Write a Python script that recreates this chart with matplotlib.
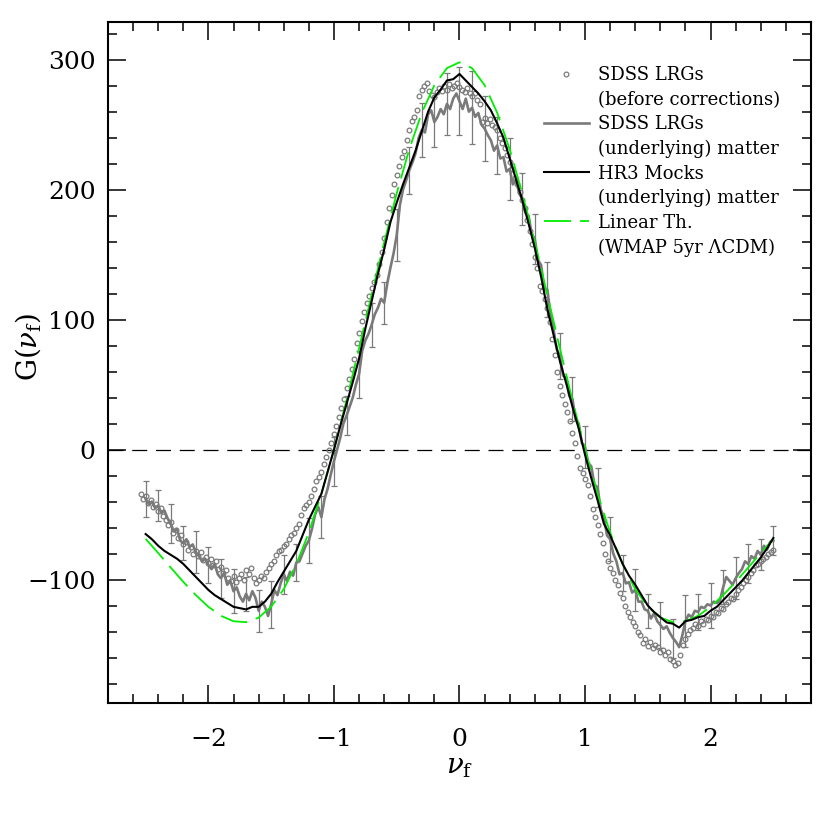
import numpy as np
import matplotlib
matplotlib.use("Agg")
import matplotlib.pyplot as plt
from matplotlib.ticker import MultipleLocator
from matplotlib.lines import Line2D

plt.rcParams['font.family'] = ['DejaVu Serif']
plt.rcParams['mathtext.fontset'] = 'dejavuserif'
plt.rcParams['axes.unicode_minus'] = True

# SDSS LRGs before corrections (open circles), nu_f = -2.54 ... 2.50 step 0.02
g_dots = [
    -34, -38, -36, -41, -39, -44, -42, -47, -45, -51,
    -54, -58, -56, -64, -62, -68, -66, -73, -71, -77,
    -75, -80, -78, -82, -79, -85, -83, -87, -84, -89,
    -86, -92, -90, -95, -93, -99, -101, -97, -102, -99,
    -96, -100, -93, -96, -91, -99, -103, -100, -97, -99,
    -94, -91, -88, -86, -81, -78, -77, -74, -73, -69,
    -66, -64, -60, -57, -50, -45, -43, -40, -36, -30,
    -24, -21, -17, -11, -6, 0, 5, 12, 18, 25,
    32, 39, 47, 54, 62, 70, 82, 90, 99, 106,
    113, 118, 124, 129, 134, 143, 152, 163, 175, 186,
    196, 204, 211, 218, 225, 230, 238, 246, 253, 256,
    261, 272, 277, 280, 282, 276, 273, 271, 275, 278,
    276, 280, 277, 281, 278, 280, 282, 279, 277, 275,
    278, 274, 272, 274, 269, 266, 252, 255, 251, 254,
    250, 248, 246, 240, 236, 232, 227, 221, 216, 209,
    204, 198, 192, 186, 177, 168, 158, 148, 140, 126,
    122, 116, 109, 98, 85, 73, 60, 49, 42, 35,
    29, 22, 13, 5, -5, -14, -18, -23, -27, -36,
    -46, -52, -58, -65, -72, -80, -86, -91, -95, -100,
    -104, -110, -114, -120, -125, -129, -133, -136, -140, -143,
    -149, -146, -151, -148, -153, -150, -152, -156, -154, -158,
    -156, -161, -163, -166, -164, -158, -150, -146, -142, -139,
    -137, -134, -136, -132, -134, -130, -131, -128, -129, -125,
    -126, -122, -123, -119, -117, -114, -115, -111, -108, -106,
    -103, -100, -98, -95, -93, -89, -88, -86, -84, -83,
    -80, -79, -77,
]

# SDSS LRGs, underlying matter (grey line), nu_f = -2.5 ... 2.5 step 0.025
g_sdss = [
    -38, -42, -40, -45, -43, -49, -47, -53, -57, -63,
    -61, -70, -72, -69, -75, -73, -79, -82, -86, -84,
    -89, -92, -88, -96, -99, -95, -104, -101, -109, -106,
    -113, -117, -111, -116, -109, -114, -124, -117, -121, -128,
    -119, -108, -112, -103, -96, -101, -94, -97, -87, -86,
    -80, -74, -70, -61, -50, -44, -52, -38, -30, -19,
    -9, 0, 9, 20, 26, 33, 40, 50, 58, 76,
    84, 89, 96, 104, 109, 116, 113, 128, 140, 151,
    165, 188, 200, 207, 215, 221, 228, 240, 246, 244,
    258, 261, 252, 256, 262, 258, 266, 262, 270, 274,
    268, 262, 270, 260, 263, 256, 259, 250, 247, 242,
    238, 230, 234, 224, 225, 214, 216, 204, 208, 197,
    193, 182, 180, 166, 162, 146, 142, 124, 123, 104,
    92, 77, 72, 57, 55, 41, 39, 23, 20, 5,
    2, -10, -13, -27, -29, -46, -52, -66, -69, -80,
    -86, -96, -95, -103, -102, -110, -108, -117, -117, -123,
    -124, -130, -126, -132, -135, -138, -136, -141, -145, -148,
    -152, -143, -132, -127, -129, -124, -125, -121, -122, -119,
    -120, -117, -118, -116, -106, -98, -101, -104, -99, -95,
    -92, -86, -88, -82, -84, -78, -81, -74, -77, -71,
    -70,
]

# error bars on the grey line, every 0.1 in nu_f
g_sdss_err = [
    14, 12, 15, 13, 16, 14, 15, 17, 13, 16,
    18, 15, 14, 17, 16, 19, 15, 18, 17, 16,
    20, 18, 21, 19, 24, 26, 28, 25, 22, 24,
    20, 19, 21, 18, 17, 16, 15, 17, 14, 16,
    13, 18, 15, 20, 14, 17, 13, 16, 15, 12,
    11,
]

# HR3 mocks, underlying matter (black line), nu_f = -2.5 ... 2.5 step 0.05
g_hr3 = [
    -65, -69, -74, -78, -81, -84, -88, -93, -98, -103,
    -108, -112, -115, -118, -121, -122, -123, -121, -121, -117,
    -111, -102, -94, -86, -78, -66, -54, -44, -34, -17,
    0, 18, 35, 52, 70, 93, 114, 135, 154, 175,
    190, 204, 217, 230, 245, 260, 271, 277, 284, 285,
    289, 284, 279, 274, 268, 261, 251, 240, 224, 208,
    192, 174, 155, 133, 108, 88, 68, 51, 33, 16,
    -4, -22, -39, -57, -66, -77, -88, -97, -104, -112,
    -120, -125, -129, -133, -134, -137, -132, -131, -129, -128,
    -124, -121, -116, -111, -106, -101, -95, -89, -83, -76,
    -68,
]

# linear theory, WMAP 5yr LCDM (green dashed), nu_f = -2.5 ... 2.5 step 0.1
g_lin_half = [298.0, 293.5, 280.4, 259.2, 231.1, 197.2, 159.3, 119.0, 77.9, 37.8,
              0.0, -34.2, -63.8, -88.3, -107.4, -120.9, -129.3, -132.8, -132.1,
              -127.9, -121.0, -112.0, -101.8, -90.8, -79.6, -68.7]
g_lin = g_lin_half[:0:-1] + g_lin_half

legend_lines = ["SDSS LRGs", "(before corrections)",
                "SDSS LRGs", "(underlying) matter",
                "HR3 Mocks", "(underlying) matter",
                "Linear Th.", "(WMAP 5yr \u039bCDM)"]

nu_dots = np.linspace(-2.54, 2.50, len(g_dots))
nu_sdss = np.linspace(-2.5, 2.5, len(g_sdss))
nu_hr3 = np.linspace(-2.5, 2.5, len(g_hr3))
nu_lin = np.linspace(-2.5, 2.5, len(g_lin))

grey = '#7a7a7a'
green = '#00ee00'

fig = plt.figure(figsize=(8.3, 8.3), dpi=100)
ax = fig.add_axes([0.1301, 0.153, 0.847, 0.8205])

ax.axhline(0, color='black', lw=0.9, dashes=(12, 7), zorder=0)
ax.plot(nu_dots, g_dots, ls='none', marker='o', mfc='none', mec=grey,
        ms=3.4, mew=0.9, zorder=1)
ax.plot(nu_sdss, g_sdss, color=grey, lw=1.9, zorder=2)
ax.errorbar(nu_sdss[::4], np.array(g_sdss)[::4], yerr=g_sdss_err, fmt='none',
            ecolor=grey, elinewidth=0.9, capsize=2, capthick=0.9, zorder=2)
ax.plot(nu_lin, g_lin, color=green, lw=1.3, dashes=(15, 5), zorder=3)
ax.plot(nu_hr3, g_hr3, color='black', lw=1.5, zorder=4)

ax.set_xlim(-2.8, 2.8)
ax.set_ylim(-195, 329)
ax.xaxis.set_major_locator(MultipleLocator(1))
ax.xaxis.set_minor_locator(MultipleLocator(0.2))
ax.yaxis.set_major_locator(MultipleLocator(100))
ax.yaxis.set_minor_locator(MultipleLocator(20))
ax.tick_params(which='both', direction='in', top=True, right=True, width=1.1)
ax.tick_params(which='major', length=13, labelsize=18)
ax.tick_params(which='minor', length=6.5)
ax.tick_params(axis='x', pad=18)
ax.tick_params(axis='y', pad=9)
for s in ax.spines.values():
    s.set_linewidth(1.5)

ax.set_xlabel(r'$\nu_{\rm f}$', fontsize=20)
ax.set_ylabel(r'G$(\nu_{\rm f})$', fontsize=20)
ax.xaxis.set_label_coords(0.5, -0.074)
ax.yaxis.set_label_coords(-0.092, 0.523)

h_dots = Line2D([], [], ls='none', marker='o', mfc='none', mec=grey, ms=3.4, mew=0.9)
h_sdss = Line2D([], [], color=grey, lw=1.9)
h_hr3 = Line2D([], [], color='black', lw=1.5)
h_lin = Line2D([], [], color=green, lw=1.3, dashes=(15, 5))
blank = Line2D([], [], ls='none')
ax.legend(handles=[h_dots, blank, h_sdss, blank, h_hr3, blank, h_lin, blank],
          labels=legend_lines, loc='upper left', bbox_to_anchor=(0.62, 0.935),
          frameon=False, fontsize=13, handlelength=2.5, handletextpad=0.5,
          labelspacing=0.36, borderpad=0, borderaxespad=0)

fig.savefig('out.png', dpi=100)
